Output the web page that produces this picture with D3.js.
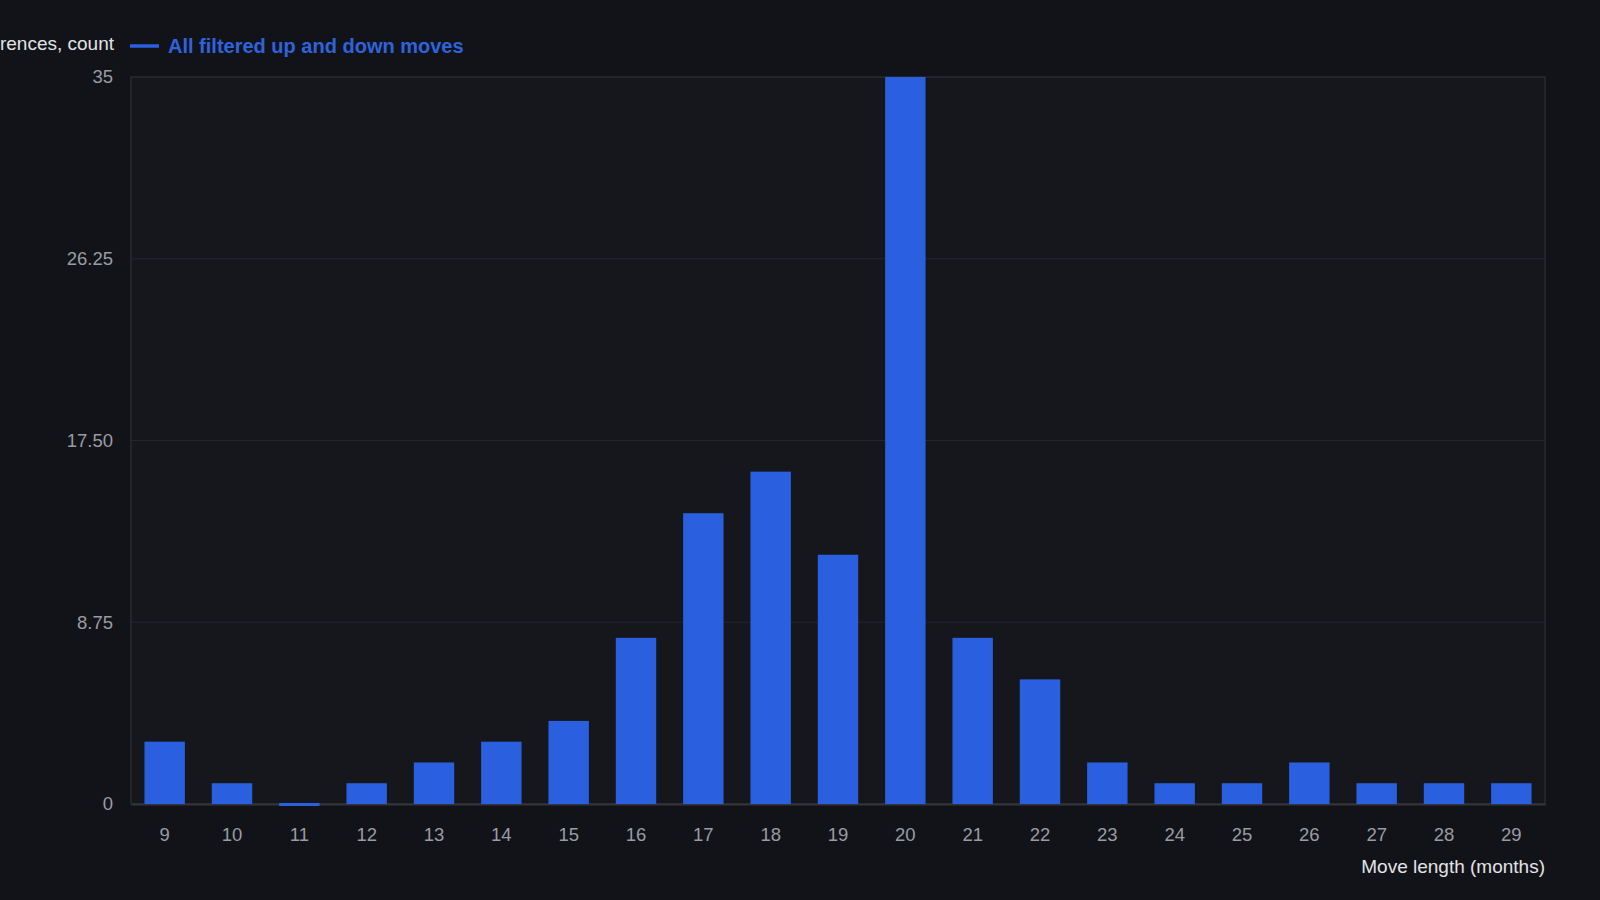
<!DOCTYPE html>
<html lang="en">

<head>
    <meta charset="utf-8">
    <script src="https://d3js.org/d3.v7.min.js"></script>
    <style>
        html, body { margin: 0; padding: 0; background: #121318; overflow: hidden; }
        text { font-family: "Liberation Sans", Arial, sans-serif; }
    </style>
</head>

<body>
    <div id="chart"></div>
</body>

<script>
    // data
    const months = [9, 10, 11, 12, 13, 14, 15, 16, 17, 18, 19, 20, 21, 22, 23, 24, 25, 26, 27, 28, 29];
    const counts = [3, 1, 0, 1, 2, 3, 4, 8, 14, 16, 12, 35, 8, 6, 2, 1, 1, 2, 1, 1, 1];
    const yTicks = [0, 8.75, 17.5, 26.25, 35];
    const yTickLabels = ["0", "8.75", "17.50", "26.25", "35"];
    const seriesName = "All filtered up and down moves";
    const yTitle = "Occurrences, count";
    const xTitle = "Move length (months)";

    const W = 1600, H = 900;
    const margin = { top: 77, right: 55, bottom: 96, left: 131 };
    const width = W - margin.left - margin.right,
        height = H - margin.top - margin.bottom;

    const svg = d3.select("#chart")
        .append("svg")
        .attr("width", W)
        .attr("height", H);

    const g = svg.append("g")
        .attr("transform", `translate(${margin.left},${margin.top})`);

    // plot background
    g.append("rect")
        .attr("width", width)
        .attr("height", height)
        .attr("fill", "#16171c")
        .attr("stroke", "#2a2b31")
        .attr("stroke-width", 1.5);

    const x = d3.scaleBand()
        .domain(months)
        .range([0, width])
        .paddingInner(0.4)
        .paddingOuter(0.2);

    const y = d3.scaleLinear()
        .domain([0, 35])
        .range([height, 0]);

    // grid lines
    g.append("g")
        .selectAll("line")
        .data(yTicks.slice(1, -1))
        .join("line")
        .attr("x1", 0)
        .attr("x2", width)
        .attr("y1", d => y(d))
        .attr("y2", d => y(d))
        .attr("stroke", "#25262c")
        .attr("stroke-width", 1.2);

    // y axis (labels only)
    const yAxis = g.append("g")
        .call(d3.axisLeft(y).tickValues(yTicks).tickFormat((d, i) => yTickLabels[i]).tickSize(0).tickPadding(18));
    yAxis.select(".domain").remove();
    yAxis.selectAll("text")
        .attr("fill", "#9a9ca4")
        .style("font-size", "18.5px");

    // x axis (labels only)
    const xAxis = g.append("g")
        .attr("transform", `translate(0,${height})`)
        .call(d3.axisBottom(x).tickSize(0).tickPadding(24));
    xAxis.select(".domain")
        .attr("stroke", "#34353b")
        .attr("stroke-width", 2);
    xAxis.selectAll("text")
        .attr("fill", "#9a9ca4")
        .style("font-size", "18.5px");

    // bars
    g.selectAll(".bar")
        .data(months.map((m, i) => ({ m: m, c: counts[i] })))
        .join("rect")
        .attr("class", "bar")
        .attr("x", d => x(d.m))
        .attr("y", d => d.c > 0 ? y(d.c) : y(0) - 1)
        .attr("width", x.bandwidth())
        .attr("height", d => d.c > 0 ? height - y(d.c) : 3)
        .attr("fill", "#2a60e0");

    // x title
    g.append("text")
        .attr("x", width)
        .attr("y", height + 69)
        .attr("text-anchor", "end")
        .attr("fill", "#e2e3e6")
        .style("font-size", "19px")
        .text(xTitle);

    // y title (runs off the left edge, as in the original)
    svg.append("text")
        .attr("x", 114)
        .attr("y", 50)
        .attr("text-anchor", "end")
        .attr("fill", "#e2e3e6")
        .style("font-size", "19px")
        .text(yTitle);

    // legend
    svg.append("line")
        .attr("x1", 130)
        .attr("x2", 159)
        .attr("y1", 46)
        .attr("y2", 46)
        .attr("stroke", "#2a60e0")
        .attr("stroke-width", 3.5);

    svg.append("text")
        .attr("x", 168)
        .attr("y", 53)
        .attr("fill", "#2f63de")
        .style("font-size", "20px")
        .style("font-weight", "bold")
        .text(seriesName);
</script>

</html>
